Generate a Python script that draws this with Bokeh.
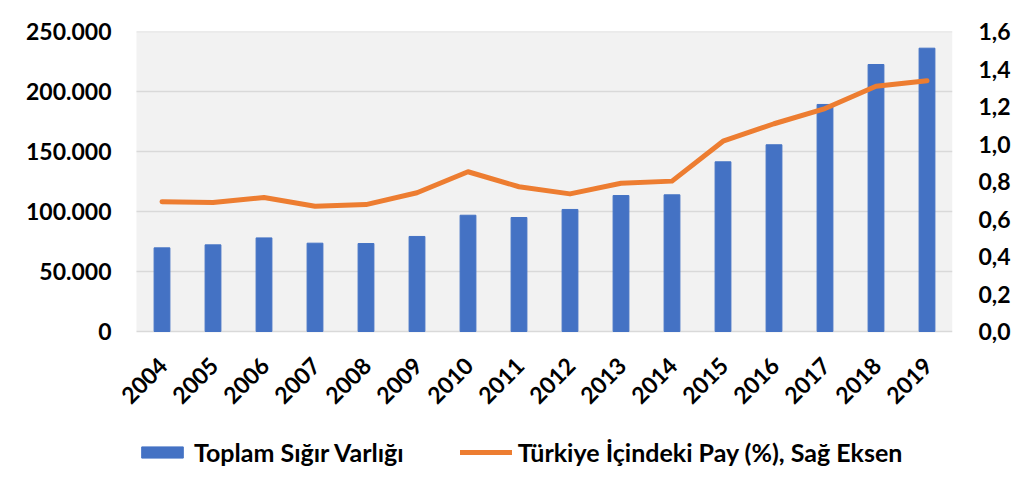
import math
from bokeh.plotting import figure
from bokeh.models import Range1d, LinearAxis, FixedTicker, Legend, LegendItem, BoxAnnotation
from bokeh.core.properties import value
from bokeh.embed import file_html
from bokeh.resources import INLINE

years = ["2004", "2005", "2006", "2007", "2008", "2009", "2010", "2011",
         "2012", "2013", "2014", "2015", "2016", "2017", "2018", "2019"]
cattle = [69700, 72200, 78000, 73600, 73300, 79200, 96900, 95000,
          101700, 113300, 113900, 141400, 155600, 189200, 222500, 236100]
share = [0.692, 0.688, 0.715, 0.668, 0.677, 0.740, 0.852, 0.772,
         0.734, 0.791, 0.802, 1.015, 1.108, 1.189, 1.308, 1.337]

left_ticks = [0, 50000, 100000, 150000, 200000, 250000]
left_labels = ["0", "50.000", "100.000", "150.000", "200.000", "250.000"]
right_ticks = [0.0, 0.2, 0.4, 0.6, 0.8, 1.0, 1.2, 1.4, 1.6]
right_labels = ["0,0", "0,2", "0,4", "0,6", "0,8", "1,0", "1,2", "1,4", "1,6"]

bar_name = "Toplam Sığır Varlığı"
line_name = "Türkiye İçindeki Pay (%), Sağ Eksen"

FONT = "Lato"
FS = "23px"
LEG_FS = "25px"

year_num = [int(y) for y in years]
x_lo = year_num[0] - 0.5
x_hi = year_num[-1] + 0.5

# layout: plot area 816x300 px; the frame extends 148px below it (year labels,
# legend) and 20px to its left (so the first rotated label is not clipped)
LEFT_MAX, RIGHT_MAX = 250000, 1.6
PLOT_W, PLOT_H, BELOW_PX, LEFT_EXTRA = 816, 300, 148, 20
unit_px = PLOT_W / len(years)
left_start = -LEFT_MAX * BELOW_PX / PLOT_H
right_start = -RIGHT_MAX * BELOW_PX / PLOT_H

p = figure(x_range=Range1d(x_lo - LEFT_EXTRA / unit_px, x_hi),
           y_range=Range1d(left_start, LEFT_MAX),
           frame_width=PLOT_W + LEFT_EXTRA, frame_height=PLOT_H + BELOW_PX,
           output_backend="svg", toolbar_location=None,
           min_border_left=116, min_border_right=64, min_border_top=31, min_border_bottom=0)
p.extra_y_ranges = {"right": Range1d(right_start, RIGHT_MAX)}

p.background_fill_color = "white"
p.border_fill_color = "white"
p.outline_line_color = None

plot_area = BoxAnnotation(left=x_lo, right=x_hi, bottom=0, top=LEFT_MAX,
                          fill_color="#F2F2F2", fill_alpha=1, line_color=None, level="image")
p.add_layout(plot_area)

# horizontal gridlines at the left-axis ticks, limited to the plot area
p.segment(x0=[x_lo] * len(left_ticks), x1=[x_hi] * len(left_ticks),
          y0=left_ticks, y1=left_ticks, line_color="#D9D9D9", line_width=1.5)

bars = p.vbar(x=year_num, top=cattle, width=0.31, color="#4472C4")
ln = p.line(x=year_num, y=share, y_range_name="right", line_color="#ED7D31",
            line_width=5, line_cap="round", line_join="round")

# year labels (category axis), rotated 45 degrees under the zero line
p.text(x=year_num, y=[0] * len(years), text=years, angle=math.pi / 4,
       x_offset=1, y_offset=30, text_align="right", text_baseline="middle",
       text_font=value(FONT), text_font_style="bold", text_font_size=FS,
       text_color="black")

p.xaxis.visible = False
p.xgrid.grid_line_color = None
p.ygrid.grid_line_color = None

def style_axis(ax, standoff):
    ax.axis_line_color = None
    ax.major_tick_line_color = None
    ax.minor_tick_line_color = None
    ax.major_tick_out = 0
    ax.major_tick_in = 0
    ax.minor_tick_out = 0
    ax.minor_tick_in = 0
    ax.major_label_standoff = standoff
    ax.major_label_text_font = FONT
    ax.major_label_text_font_style = "bold"
    ax.major_label_text_font_size = FS
    ax.major_label_text_color = "black"

ya = p.yaxis[0]
ya.ticker = FixedTicker(ticks=left_ticks)
ya.major_label_overrides = {t: l for t, l in zip(left_ticks, left_labels)}
style_axis(ya, 25 - LEFT_EXTRA)

ra = LinearAxis(y_range_name="right", ticker=FixedTicker(ticks=right_ticks))
ra.major_label_overrides = {t: l for t, l in zip(right_ticks, right_labels)}
style_axis(ra, 26)
p.add_layout(ra, "right")

legend = Legend(items=[LegendItem(label=bar_name, renderers=[bars]),
                       LegendItem(label=line_name, renderers=[ln])],
                orientation="horizontal", location=(LEFT_EXTRA, 12),
                glyph_width=52, glyph_height=14, label_standoff=6, spacing=56,
                border_line_color=None, background_fill_alpha=0,
                label_text_font=FONT, label_text_font_style="bold",
                label_text_font_size=LEG_FS, label_text_color="black",
                margin=0, padding=2)
p.add_layout(legend, "center")

open("out.html", "w").write(file_html(p, INLINE))
